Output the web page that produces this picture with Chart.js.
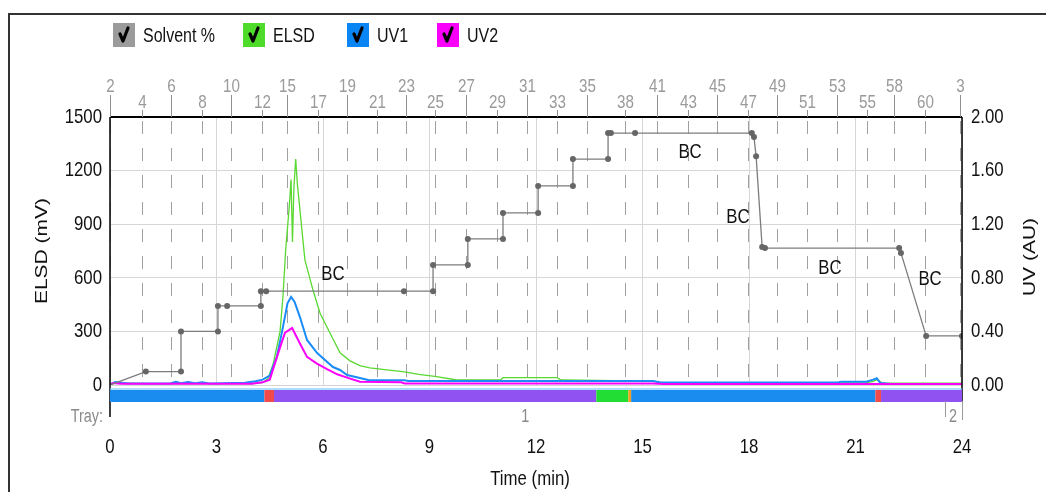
<!DOCTYPE html>
<html>
<head>
<meta charset="utf-8">
<script src="https://cdn.jsdelivr.net/npm/chart.js@4.4.1/dist/chart.umd.min.js"></script>
<style>
    html, body { margin: 0; padding: 0; background: #fff; }
    #wrap { position: relative; width: 1046px; height: 492px; }
</style>
</head>
<body>
<div id="wrap"><canvas id="chrom"></canvas></div>
<script>
// Axis ticks
const timeTicks = [0, 3, 6, 9, 12, 15, 18, 21, 24];
const elsdTicks = [0, 300, 600, 900, 1200, 1500];
const uvTicks = [0, 0.4, 0.8, 1.2, 1.6, 2.0];

const seriesNames = ['Solvent %', 'ELSD', 'UV1', 'UV2'];
const seriesColors = ['#9b9b9b', '#4fdb2a', '#0a86f4', '#fa00fa'];

// Gradient program (solvent %, drawn on its own 0-100 scale)
const solventTime = [0, 1.01, 2.0, 2.0, 3.04, 3.04, 3.3, 4.25, 4.25, 4.4, 8.28, 9.1, 9.1, 10.08, 10.08, 11.07, 11.07, 12.06, 12.06, 13.04, 13.04, 14.03, 14.03, 14.11, 14.79, 18.08, 18.14, 18.2, 18.37, 18.45, 22.23, 22.28, 22.99, 24];
const solventPct = [0, 5, 5, 20, 20, 29.5, 29.5, 29.5, 35, 35, 35, 35, 44.8, 44.8, 54.5, 54.5, 64.2, 64.2, 74.3, 74.3, 84.3, 84.3, 94, 94, 94, 94, 92.5, 85.4, 51.5, 51.1, 51.1, 49.3, 18.3, 18.3];

// "BC" step labels on the gradient
const bcTime = [6.28, 16.34, 17.69, 20.28, 23.1];
const bcPct = [41.4, 86.9, 62.7, 43.7, 39.6];

// ELSD trace (mV)
const elsdTime = [0, 0.2, 1.0, 2.0, 3.0, 4.0, 4.3, 4.45, 4.6, 4.79, 4.87, 4.95, 5.05, 5.1, 5.14, 5.18, 5.23, 5.28, 5.35, 5.49, 5.72, 5.92, 6.2, 6.48, 6.76, 7.04, 7.32, 7.8, 8.25, 8.7, 9.2, 9.77, 11.0, 11.07, 12.6, 12.7, 15.3, 15.6, 21.3, 21.5, 21.6, 21.75, 24];
const elsdMv = [6, 12, 8, 8, 8, 8, 14, 35, 120, 300, 490, 760, 1000, 1150, 800, 1100, 1265, 1120, 980, 700, 530, 400, 290, 180, 135, 108, 96, 85, 75, 60, 47, 28, 28, 41, 41, 28, 22, 12, 12, 20, 30, 12, 10];

// UV traces (AU)
const uv1Time = [0, 0.15, 0.5, 1.7, 1.85, 2.0, 2.2, 2.4, 2.6, 2.8, 3.8, 4.1, 4.3, 4.5, 4.7, 4.87, 5.0, 5.1, 5.2, 5.35, 5.55, 5.83, 6.0, 6.28, 6.48, 6.68, 7.04, 7.3, 8.3, 8.4, 15.3, 15.5, 20.5, 20.6, 21.3, 21.5, 21.6, 21.7, 22.0, 24];
const uv1Au = [0.005, 0.022, 0.012, 0.012, 0.024, 0.014, 0.022, 0.013, 0.02, 0.012, 0.016, 0.028, 0.04, 0.07, 0.21, 0.43, 0.61, 0.657, 0.62, 0.507, 0.336, 0.24, 0.2, 0.134, 0.112, 0.075, 0.052, 0.035, 0.035, 0.03, 0.03, 0.018, 0.018, 0.025, 0.025, 0.04, 0.05, 0.015, 0.008, 0.008];
const uv2Time = [0, 0.1, 0.3, 4.0, 4.3, 4.5, 4.74, 4.93, 5.13, 5.35, 5.55, 5.83, 6.1, 6.4, 6.68, 7.04, 8.2, 8.3, 15.3, 15.6, 24];
const uv2Au = [0.0, 0.015, 0.01, 0.01, 0.02, 0.04, 0.24, 0.39, 0.425, 0.31, 0.21, 0.16, 0.12, 0.08, 0.055, 0.025, 0.02, 0.012, 0.012, 0.008, 0.008];

// Fraction collector: tube numbers and the time each tube starts
const fractionNum = ['2', '4', '6', '8', '10', '12', '15', '17', '19', '21', '23', '25', '27', '29', '31', '33', '35', '38', '41', '43', '45', '47', '49', '51', '53', '55', '58', '60', '3'];
const fractionTime = [0, 0.9, 1.72, 2.59, 3.41, 4.28, 4.99, 5.86, 6.68, 7.52, 8.34, 9.15, 10.03, 10.9, 11.75, 12.59, 13.44, 14.51, 15.41, 16.28, 17.1, 17.97, 18.79, 19.63, 20.48, 21.32, 22.08, 22.96, 23.94];

// Collection status bar
const bandFrom = [0, 4.35, 4.62, 13.7, 14.6, 14.68, 21.56, 21.72];
const bandTo = [4.35, 4.62, 13.7, 14.6, 14.68, 21.56, 21.72, 24];
const bandColor = ['#1a8cf0', '#f24a4a', '#9052f0', '#22dd33', '#f0a020', '#1a8cf0', '#f24a4a', '#9052f0'];

// Tray labels
const trayName = ['1', '2'];
const trayTime = [11.7, 23.75];

const FONT = "'Liberation Sans', Arial, sans-serif";

const pairs = (xs, ys) => xs.map((x, i) => ({ x, y: ys[i] }));

// narrow lettering: every label is drawn compressed horizontally
function squeezed(ctx, text, x, y, size, color, align, rotate) {
    ctx.save();
    ctx.translate(x, y);
    ctx.scale(0.8, 1);
    if (rotate) ctx.rotate(-Math.PI / 2);
    ctx.font = size + 'px ' + FONT;
    ctx.fillStyle = color;
    ctx.textAlign = align || 'center';
    ctx.textBaseline = 'middle';
    ctx.fillText(text, 0, 0);
    ctx.restore();
}

const decor = {
    id: 'decor',
    beforeDatasetsDraw(chart) {
        const { ctx, chartArea: a, scales: { x } } = chart;
        ctx.save();
        // dashed tube markers through the plot
        ctx.strokeStyle = '#a0a0a0';
        ctx.lineWidth = 1;
        ctx.setLineDash([13, 14]);
        ctx.lineDashOffset = -4;
        fractionTime.forEach(t => {
            const px = Math.round(x.getPixelForValue(t)) + 0.5;
            ctx.beginPath();
            ctx.moveTo(px, a.top);
            ctx.lineTo(px, a.bottom);
            ctx.stroke();
        });
        ctx.restore();
    },
    afterDraw(chart) {
        const { ctx, chartArea: a, scales: { x, yElsd, yUv, ySolvent } } = chart;
        ctx.save();

        // outer panel frame
        ctx.strokeStyle = '#333';
        ctx.lineWidth = 2;
        ctx.beginPath();
        ctx.moveTo(9, 492);
        ctx.lineTo(9, 14);
        ctx.lineTo(1046, 14);
        ctx.stroke();

        // plot frame
        ctx.strokeStyle = '#000';
        ctx.lineWidth = 2;
        ctx.beginPath();
        ctx.moveTo(a.left, a.top);
        ctx.lineTo(a.right, a.top);
        ctx.stroke();
        ctx.lineWidth = 1.5;
        ctx.beginPath();
        ctx.moveTo(a.left, a.top);
        ctx.lineTo(a.left, a.bottom + 32);
        ctx.moveTo(a.right, a.top);
        ctx.lineTo(a.right, a.bottom + 16);
        ctx.stroke();

        // tick labels, placed by the scales
        x.ticks.forEach(tk => {
            squeezed(ctx, String(tk.value), x.getPixelForValue(tk.value), 447, 21, '#111', 'center');
        });
        yElsd.ticks.forEach(tk => {
            squeezed(ctx, String(tk.value), a.left - 8, yElsd.getPixelForValue(tk.value), 21, '#111', 'right');
        });
        yUv.ticks.forEach(tk => {
            squeezed(ctx, tk.value.toFixed(2), a.right + 9, yUv.getPixelForValue(tk.value), 21, '#111', 'left');
        });

        // collection status bar under the baseline
        const y0 = a.bottom;
        bandFrom.forEach((t, i) => {
            const x1 = x.getPixelForValue(t);
            const x2 = x.getPixelForValue(bandTo[i]);
            ctx.fillStyle = bandColor[i];
            ctx.fillRect(x1, y0 + 5, x2 - x1, 12);
        });
        ctx.fillStyle = 'rgba(120,200,255,0.6)';
        ctx.fillRect(a.left, y0 + 3, a.right - a.left, 2);

        // tray row
        ctx.strokeStyle = '#9a9a9a';
        ctx.lineWidth = 1;
        ctx.beginPath();
        ctx.moveTo(a.right + 0.5, y0 + 16);
        ctx.lineTo(a.right + 0.5, y0 + 35);
        const t2 = x.getPixelForValue(trayTime[1]) - 8;
        ctx.moveTo(Math.round(t2) + 0.5, y0 + 16);
        ctx.lineTo(Math.round(t2) + 0.5, y0 + 32);
        ctx.stroke();
        squeezed(ctx, 'Tray:', a.left - 7, y0 + 32, 18, '#8a8a8a', 'right');
        trayName.forEach((n, i) => {
            squeezed(ctx, n, x.getPixelForValue(trayTime[i]), y0 + 32, 18, '#8a8a8a', 'center');
        });

        // tube numbers along the top edge, staggered in two rows
        ctx.strokeStyle = '#909090';
        ctx.lineWidth = 1;
        fractionTime.forEach((t, i) => {
            const px = Math.round(x.getPixelForValue(t)) + 0.5;
            const upper = i % 2 === 0;
            ctx.beginPath();
            ctx.moveTo(px, upper ? a.top - 22 : a.top - 7);
            ctx.lineTo(px, a.top);
            ctx.stroke();
            squeezed(ctx, fractionNum[i], px, upper ? a.top - 30 : a.top - 14, 19, '#9a9a9a', 'center');
        });

        // "BC" markers on the gradient steps
        bcTime.forEach((t, i) => {
            squeezed(ctx, 'BC', x.getPixelForValue(t), ySolvent.getPixelForValue(bcPct[i]), 21, '#111', 'center');
        });

        // axis titles
        squeezed(ctx, 'ELSD (mV)', 42, (a.top + a.bottom) / 2, 21, '#111', 'center', true);
        squeezed(ctx, 'UV (AU)', 1030, (a.top + a.bottom) / 2 + 6, 21, '#111', 'center', true);
        squeezed(ctx, 'Time (min)', 530, 479, 21, '#111', 'center');

        // checkbox legend
        const legendX = [113, 243, 347, 437];
        seriesNames.forEach((name, i) => {
            const lx = legendX[i];
            ctx.fillStyle = seriesColors[i];
            ctx.fillRect(lx, 23, 22, 24);
            ctx.strokeStyle = '#000';
            ctx.lineWidth = 3.2;
            ctx.lineCap = 'round';
            ctx.lineJoin = 'round';
            ctx.beginPath();
            ctx.moveTo(lx + 7, 34);
            ctx.lineTo(lx + 10, 41);
            ctx.lineTo(lx + 15, 28);
            ctx.stroke();
            squeezed(ctx, name, lx + 30, 36, 20, '#111', 'left');
        });
        ctx.restore();
    }
};

new Chart(document.getElementById('chrom'), {
    type: 'line',
    data: {
        datasets: [
            {
                label: seriesNames[0],
                data: pairs(solventTime, solventPct),
                yAxisID: 'ySolvent',
                borderColor: '#7c7c7c',
                borderWidth: 1.3,
                pointRadius: ctx => (ctx.dataIndex === 0 ? 0 : 3),
                pointBackgroundColor: '#666',
                pointBorderWidth: 0,
                order: 0
            },
            {
                label: seriesNames[3],
                data: pairs(uv2Time, uv2Au),
                yAxisID: 'yUv',
                borderColor: seriesColors[3],
                borderWidth: 2,
                pointRadius: 0,
                order: 1
            },
            {
                label: seriesNames[2],
                data: pairs(uv1Time, uv1Au),
                yAxisID: 'yUv',
                borderColor: '#1a8cf8',
                borderWidth: 2,
                pointRadius: 0,
                order: 2
            },
            {
                label: seriesNames[1],
                data: pairs(elsdTime, elsdMv),
                yAxisID: 'yElsd',
                borderColor: '#5ad832',
                borderWidth: 1.3,
                pointRadius: 0,
                order: 3
            }
        ]
    },
    options: {
        responsive: true,
        maintainAspectRatio: false,
        animation: false,
        layout: { padding: { top: 117 } },
        elements: { line: { tension: 0 } },
        plugins: {
            legend: { display: false },
            tooltip: { enabled: false }
        },
        scales: {
            x: {
                type: 'linear',
                min: 0,
                max: 24,
                afterBuildTicks: s => { s.ticks = timeTicks.map(v => ({ value: v })); },
                afterFit: s => { s.height = 107; },
                grid: { color: '#d6d6d6', drawTicks: false },
                border: { display: false },
                ticks: { display: false }
            },
            yElsd: {
                position: 'left',
                min: 0,
                max: 1500,
                afterBuildTicks: s => { s.ticks = elsdTicks.map(v => ({ value: v })); },
                afterFit: s => { s.width = 110; },
                grid: { color: '#d6d6d6', drawTicks: false },
                border: { display: false },
                ticks: { display: false }
            },
            yUv: {
                position: 'right',
                min: 0,
                max: 2,
                afterBuildTicks: s => { s.ticks = uvTicks.map(v => ({ value: v })); },
                afterFit: s => { s.width = 84; },
                grid: { display: false, drawTicks: false },
                border: { display: false },
                ticks: { display: false }
            },
            ySolvent: { display: false, min: 0, max: 100 }
        }
    },
    plugins: [decor]
});
</script>
</body>
</html>
